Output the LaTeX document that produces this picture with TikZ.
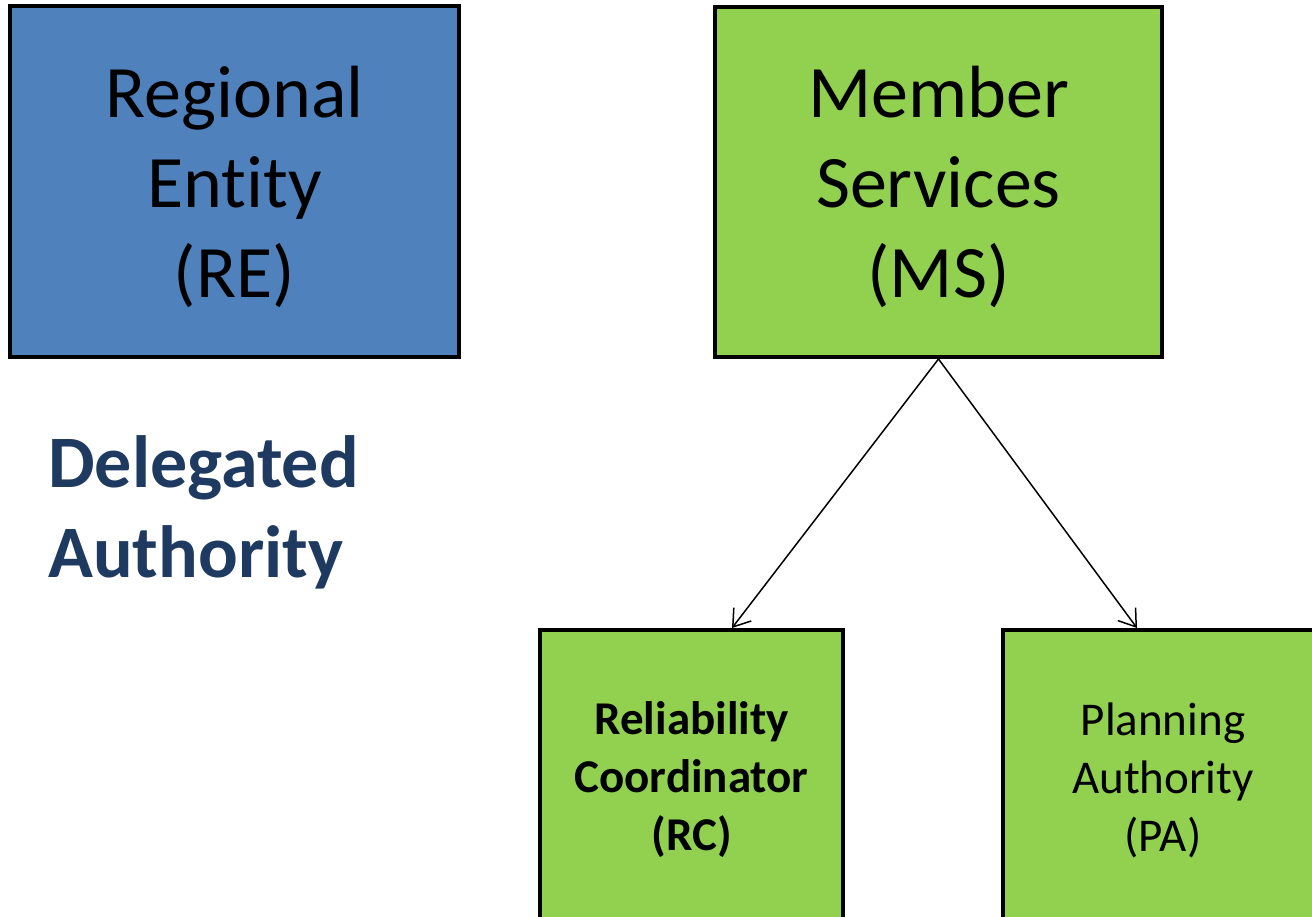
\documentclass[tikz,border=0pt]{standalone}
\usepackage{fontspec}
\setmainfont{Carlito}[Ligatures=NoCommon]
\usetikzlibrary{arrows.meta}
\definecolor{reblue}{HTML}{4F81BD}
\definecolor{msgreen}{HTML}{92D050}
\definecolor{navytext}{HTML}{1F3A60}
\begin{document}
\begin{tikzpicture}[x=1pt,y=-1pt,
  box/.style={draw=black,line width=4pt,inner sep=0pt,align=center},
  bigtext/.style={font=\fontsize{74}{90}\selectfont,align=center,inner sep=0pt},
  smalltext/.style={font=\fontsize{47}{58}\selectfont},
  link/.style={line width=1.5pt,-{Straight Barb[length=16pt,width=22pt]}}]
\useasboundingbox (0,0) rectangle (1312,916);
\clip (0,0) rectangle (1312,916);
\node[box,fill=reblue,minimum width=449pt,minimum height=351pt] (re) at (234.5,181.5) {};
\node[bigtext] (retext) at ([yshift=-5pt]re.center) {Regional\\Entity\\(RE)};
\node[box,fill=msgreen,minimum width=447pt,minimum height=350pt] (ms) at (938.5,182) {};
\node[bigtext] (mstext) at ([yshift=-5pt]ms.center) {Member\\Services\\(MS)};
\node[box,smalltext,fill=msgreen,minimum width=303pt,minimum height=300pt] (rc) at (691.5,780) {\bfseries Reliability\\\bfseries Coordinator\\\bfseries (RC)};
\node[box,smalltext,fill=msgreen,minimum width=320pt,minimum height=300pt] (pa) at (1163,780) {Planning\\Authority\\(PA)};
\node[bigtext,text=navytext,align=left,anchor=west] (da) at (48,512) {\bfseries Delegated\\\bfseries Authority};
\draw[link] (ms.south) -- ([xshift=40.5pt]rc.north);
\draw[link] (ms.south) -- ([xshift=-26pt]pa.north);
\end{tikzpicture}
\end{document}
